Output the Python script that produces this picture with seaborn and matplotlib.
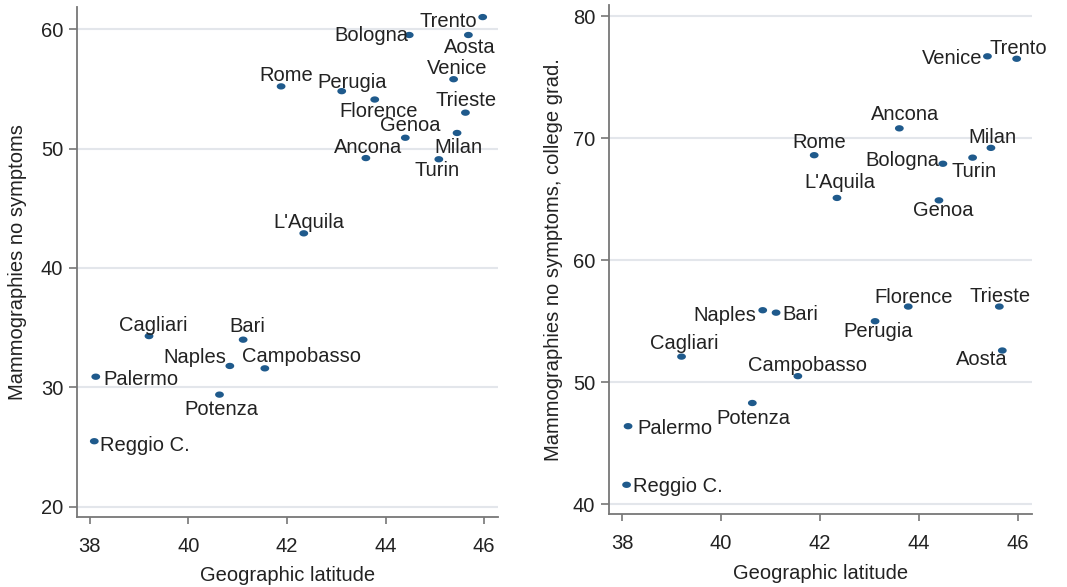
import numpy as np
import pandas as pd
import matplotlib
matplotlib.use("Agg")
import matplotlib.pyplot as plt
from matplotlib.path import Path
import seaborn as sns

# data
cities = ["Trento", "Bologna", "Aosta", "Venice", "Rome", "Perugia", "Florence",
          "Trieste", "Milan", "Genoa", "Ancona", "Turin", "L'Aquila", "Cagliari",
          "Bari", "Naples", "Campobasso", "Palermo", "Potenza", "Reggio C."]
latitude = [45.97, 44.48, 45.68, 45.38, 41.88, 43.11, 43.78,
            45.62, 45.45, 44.40, 43.60, 45.08, 42.34, 39.20,
            41.11, 40.84, 41.55, 38.12, 40.63, 38.09]
mammo_all = [61.0, 59.5, 59.5, 55.8, 55.2, 54.8, 54.1,
             53.0, 51.3, 50.9, 49.2, 49.1, 42.9, 34.3,
             34.0, 31.8, 31.6, 30.9, 29.4, 25.5]
mammo_grad = [76.5, 67.9, 52.6, 76.7, 68.6, 55.0, 56.2,
              56.2, 69.2, 64.9, 70.8, 68.4, 65.1, 52.1,
              55.7, 55.9, 50.5, 46.4, 48.3, 41.6]
x_ticks = [38, 40, 42, 44, 46]
y_ticks_left = [20, 30, 40, 50, 60]
y_ticks_right = [40, 50, 60, 70, 80]

# label placement (ha, dx px, dy px up) per panel
labels_left = {
    "Trento": ("right", -6, -2), "Bologna": ("right", -1, 2), "Aosta": ("center", 1, -10),
    "Venice": ("center", 4, 13), "Rome": ("center", 5, 13), "Perugia": ("center", 10, 11),
    "Florence": ("center", 4, -10), "Trieste": ("center", 1, 14), "Genoa": ("center", 5, 14),
    "Milan": ("center", 1, -13), "Ancona": ("center", 2, 13), "Turin": ("center", -2, -9),
    "L'Aquila": ("center", 5, 13), "Cagliari": ("center", 4, 13), "Bari": ("center", 4, 15),
    "Naples": ("right", -4, 10), "Campobasso": ("center", 37, 14), "Palermo": ("left", 8, -1),
    "Potenza": ("center", 2, -13), "Reggio C.": ("left", 6, -2),
}
labels_right = {
    "Venice": ("right", -5, 0), "Trento": ("center", 2, 12), "Ancona": ("center", 6, 16),
    "Rome": ("center", 5, 15), "Milan": ("center", 2, 12), "Bologna": ("right", -4, 5),
    "Turin": ("center", 1, -12), "L'Aquila": ("center", 3, 17), "Genoa": ("center", 4, -8),
    "Florence": ("center", 5, 11), "Trieste": ("center", 1, 12), "Naples": ("right", -6, -3),
    "Bari": ("left", 6, 0), "Perugia": ("center", 3, -8), "Aosta": ("right", 5, -7),
    "Cagliari": ("center", 3, 15), "Campobasso": ("center", 10, 13), "Potenza": ("center", 1, -13),
    "Palermo": ("left", 9, 0), "Reggio C.": ("left", 6, 0),
}

df = pd.DataFrame({"city": cities, "lat": latitude, "all": mammo_all, "grad": mammo_grad})

sns.set_style("white")
plt.rcParams["font.family"] = ["Liberation Sans", "DejaVu Sans"]
plt.rcParams["text.color"] = "#222222"

# slightly flattened dot, like the reference
t = np.linspace(0, 2 * np.pi, 40)
ellipse = Path(np.column_stack([np.cos(t), 0.72 * np.sin(t)]), closed=True)

fig = plt.figure(figsize=(10.67, 5.87), dpi=100)
ax1 = fig.add_axes([0.0722, 0.1193, 0.3945, 0.8687])
ax2 = fig.add_axes([0.5710, 0.1238, 0.3962, 0.8676])

panels = [
    (ax1, "all", labels_left, y_ticks_left, (19.16, 61.84),
     "Mammographies no symptoms", 10.0, 7.4),
    (ax2, "grad", labels_right, y_ticks_right, (39.18, 80.9),
     "Mammographies no symptoms, college grad.", 7.5, 8.0),
]

for ax, col, lab, yt, ylim, ylabel, ypad, xpad in panels:
    for y in yt:
        ax.axhline(y, color="#e3e6eb", lw=1.5, zorder=0)
    sns.scatterplot(data=df, x="lat", y=col, ax=ax, marker=ellipse, s=40,
                    color="#1f5a8c", edgecolor="none", linewidth=0, zorder=3)
    for _, row in df.iterrows():
        ha, dx, dy = lab[row["city"]]
        ax.annotate(row["city"], (row["lat"], row[col]), xytext=(dx * 0.72, dy * 0.72),
                    textcoords="offset points", ha=ha, va="center_baseline",
                    fontsize=14.5, color="#222222", annotation_clip=False, zorder=4)
    ax.set_xlim(37.74, 46.28)
    ax.set_ylim(*ylim)
    ax.set_xticks(x_ticks)
    ax.set_yticks(yt)
    ax.set_xlabel("Geographic latitude", fontsize=14.5, color="#222222", labelpad=xpad)
    ax.set_ylabel(ylabel, fontsize=14.5, color="#222222", labelpad=ypad)
    ax.tick_params(axis="both", labelsize=14.5, labelcolor="#222222", color="#777777",
                   width=1.2, direction="out", bottom=True, left=True)
    ax.tick_params(axis="x", length=5, pad=9.3)
    ax.tick_params(axis="y", length=6, pad=4)
    sns.despine(ax=ax)
    for side in ["left", "bottom"]:
        ax.spines[side].set_color("#777777")
        ax.spines[side].set_linewidth(1.3)

fig.savefig("out.png", dpi=100)
